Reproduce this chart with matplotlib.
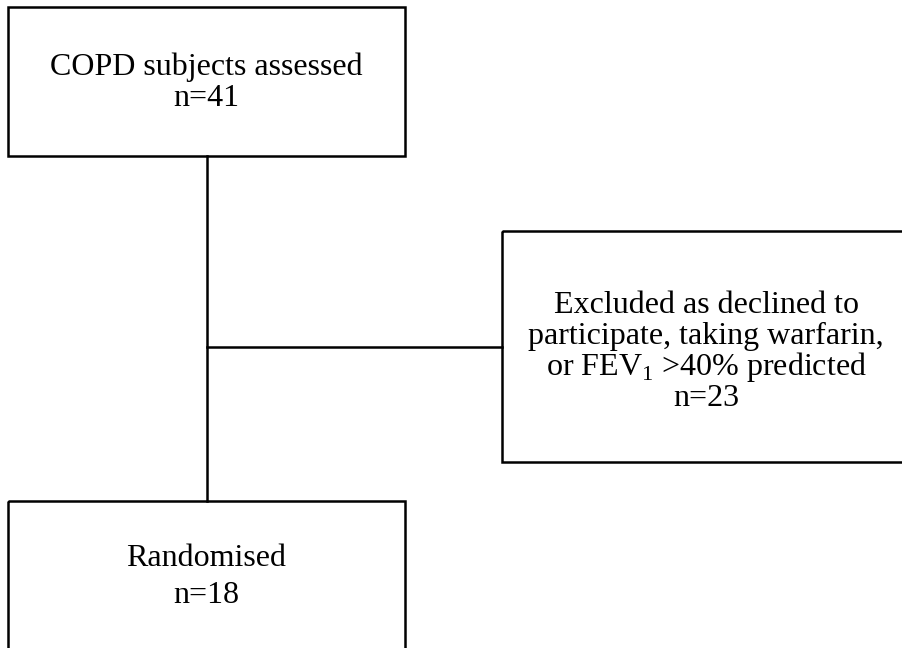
import matplotlib.pyplot as plt
from matplotlib.patches import Rectangle

plt.rcParams['font.family'] = 'Liberation Serif'
plt.rcParams['mathtext.fontset'] = 'custom'
plt.rcParams['mathtext.rm'] = 'Liberation Serif'

# flow chart content
assessed_label = "COPD subjects assessed"
excluded_lines = ["Excluded as declined to",
                  "participate, taking warfarin,",
                  r"or FEV$_\mathrm{1}$ >40% predicted"]
randomised_label = "Randomised"
counts = [41, 23, 18]

fig = plt.figure(figsize=(9.02, 6.48), dpi=100)
ax = fig.add_axes([0, 0, 1, 1])
ax.set_xlim(0, 902)
ax.set_ylim(648, 0)
ax.axis('off')

lw = 1.8
fs = 23

# boxes (left, top, width, height) in pixel units
top_box = (8, 7, 397, 149)
side_box = (502, 231, 420, 231)
bottom_box = (8, 501, 397, 200)
for x, y, w, h in [top_box, side_box, bottom_box]:
    ax.add_patch(Rectangle((x, y), w, h, fill=False, ec='black', lw=lw))

# connectors
stem_x = top_box[0] + top_box[2] / 2
ax.plot([stem_x, stem_x], [top_box[1] + top_box[3], bottom_box[1]], color='black', lw=lw)
ax.plot([stem_x, side_box[0]], [347, 347], color='black', lw=lw)

# text
ax.text(stem_x, 75, assessed_label, ha='center', va='baseline', fontsize=fs)
ax.text(stem_x, 106, "n=%d" % counts[0], ha='center', va='baseline', fontsize=fs)

side_cx = 706
ys = [313, 344, 375]
for line, y in zip(excluded_lines, ys):
    ax.text(side_cx, y, line, ha='center', va='baseline', fontsize=fs)
ax.text(side_cx, 406, "n=%d" % counts[1], ha='center', va='baseline', fontsize=fs)

ax.text(stem_x, 566, randomised_label, ha='center', va='baseline', fontsize=fs)
ax.text(stem_x, 603, "n=%d" % counts[2], ha='center', va='baseline', fontsize=fs)

fig.savefig('out.png', dpi=100)
